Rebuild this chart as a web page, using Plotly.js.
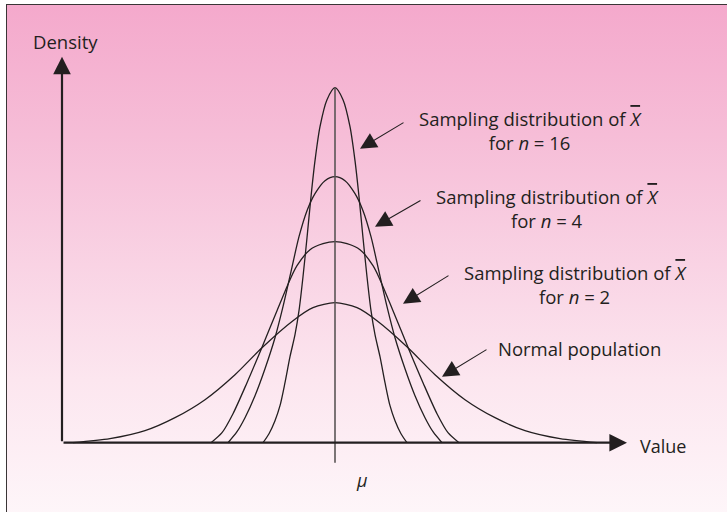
<!DOCTYPE html>
<html>
<head>
<meta charset="utf-8">
<script src="https://cdn.plot.ly/plotly-3.0.1.min.js"></script>
<style>
  html, body { margin: 0; padding: 0; background: #ffffff; }
  #wrap { position: relative; width: 727px; height: 512px; overflow: hidden; background: #ffffff; }
  #bg { position: absolute; left: 6px; top: 4px; width: 730px; height: 520px;
        border-left: 1.5px solid #3a3536; border-top: 1.5px solid #3a3536;
        background: linear-gradient(to bottom, #f4a9cc 0%, #f6bdd7 25%, #f9d3e4 50%, #fce6ef 72%, #fef7fa 100%); }
  #chart { position: absolute; left: 0; top: 0; width: 727px; height: 512px; }
</style>
</head>
<body>
<div id="wrap">
  <div id="bg"></div>
  <div id="chart"></div>
</div>
<script>
// Curves: x = offset from mu, y = density height
const curveNames = ['Normal population', 'n = 2', 'n = 4', 'n = 16'];

const popX = [-262, -225, -190, -160, -130, -100, -73, -42, -22, 0, 22, 42, 73, 100, 130, 160, 190, 225, 262];
const popY = [0, 4, 12, 25, 43, 68, 95, 122, 135, 140, 135, 122, 95, 68, 43, 25, 12, 4, 0];

const n2X = [-124, -113, -102, -88, -74, -58, -45, -38, -25, -12, 0, 12, 25, 38, 45, 58, 74, 88, 102, 113, 124];
const n2Y = [0, 10, 29, 60, 93, 132, 163, 177, 193, 199, 201, 199, 193, 177, 163, 132, 93, 60, 29, 10, 0];

const n4X = [-107, -98, -90, -80, -70, -60, -52, -44, -36, -28, -20, -10, 0, 10, 20, 28, 36, 44, 52, 60, 70, 80, 90, 98, 107];
const n4Y = [0, 11, 25, 47, 74, 105, 136, 171, 206, 232, 249, 262, 266, 262, 249, 232, 206, 171, 136, 105, 74, 47, 25, 11, 0];

const n16X = [-72, -66, -60, -55, -50, -45, -40, -36, -32, -28, -24, -20, -15, -8, 0, 8, 15, 20, 24, 28, 32, 36, 40, 45, 50, 55, 60, 66, 72];
const n16Y = [0, 9, 22, 37, 60, 86, 108, 132, 166, 205, 246, 282, 316, 343, 355, 343, 316, 282, 246, 205, 166, 132, 108, 86, 60, 37, 22, 9, 0];

const muX = [0, 0];
const muY = [-20, 355];

const axisXRange = [-273, 292];   // horizontal axis extent (origin to arrow tip)
const axisYTop = 386;             // vertical axis arrow tip

const xbar = '<i><span style="text-decoration:overline">X</span></i>';
const labelTexts = [
  'Sampling distribution of ' + xbar + '<br>for <i>n</i> = 16',
  'Sampling distribution of ' + xbar + '<br>for <i>n</i> = 4',
  'Sampling distribution of ' + xbar + '<br>for <i>n</i> = 2',
  'Normal population'
];

const ink = '#231f20';
const FONT = 'Open Sans, Lato, sans-serif';
const FS = 18.5;

const lineStyle = {color: ink, width: 1.3, shape: 'spline', smoothing: 0.8};
const traces = [
  {x: popX, y: popY, name: curveNames[0]},
  {x: n2X, y: n2Y, name: curveNames[1]},
  {x: n4X, y: n4Y, name: curveNames[2]},
  {x: n16X, y: n16Y, name: curveNames[3]}
].map(t => Object.assign(t, {type: 'scatter', mode: 'lines', line: lineStyle, hoverinfo: 'skip'}));

traces.push({x: muX, y: muY, type: 'scatter', mode: 'lines',
  line: {color: '#5a5556', width: 1.6}, hoverinfo: 'skip', name: 'mu'});

function arrow(x, y, ax, ay, w, size) {
  return {x: x, y: y, ax: ax, ay: ay, xref: 'x', yref: 'y', axref: 'x', ayref: 'y',
    text: '', showarrow: true, arrowhead: 2, arrowwidth: w, arrowsize: size,
    arrowcolor: ink, standoff: 0, startstandoff: 0};
}

function label(x, y, text, xanchor, size) {
  return {x: x, y: y, xref: 'x', yref: 'y', text: text, showarrow: false,
    xanchor: xanchor, yanchor: 'middle', align: xanchor === 'left' ? 'left' : 'center',
    font: {family: FONT, size: size, color: ink}};
}

const annotations = [
  // axes
  arrow(axisXRange[1], 0, axisXRange[0], 0, 2.2, 1.6),
  arrow(axisXRange[0], axisYTop, axisXRange[0], 0, 2.2, 1.6),
  // label pointers
  arrow(25, 294, 70, 321, 1.1, 3),
  arrow(40, 216, 87, 243, 1.1, 3),
  arrow(68, 139, 115, 168, 1.1, 3),
  arrow(107, 66, 153, 94, 1.1, 3),
  // texts
  label(195, 312, labelTexts[0], 'center', FS),
  label(212.5, 234.5, labelTexts[1], 'center', FS),
  label(240.5, 158.5, labelTexts[2], 'center', FS),
  label(161, 94.5, labelTexts[3], 'left', FS),
  label(-270, 401, 'Density', 'center', 18.5),
  label(303, -3, 'Value', 'left', 18),
  label(27, -37, '<i>μ</i>', 'center', 18)
];

const hidden = {visible: false, showgrid: false, zeroline: false, fixedrange: true};

const layout = {
  width: 727, height: 512,
  margin: {l: 0, r: 0, t: 0, b: 0, pad: 0},
  paper_bgcolor: 'rgba(0,0,0,0)',
  plot_bgcolor: 'rgba(0,0,0,0)',
  showlegend: false,
  xaxis: Object.assign({range: [-335, 392]}, hidden),
  yaxis: Object.assign({range: [-69.3, 442.7]}, hidden),
  annotations: annotations
};

Plotly.newPlot('chart', traces, layout, {staticPlot: true, displayModeBar: false});
</script>
</body>
</html>
